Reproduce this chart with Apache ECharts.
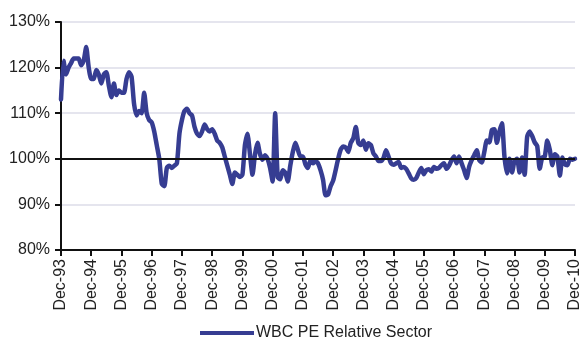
<!DOCTYPE html>
<html>
<head>
<meta charset="utf-8">
<script src="https://cdn.jsdelivr.net/npm/echarts@6/dist/echarts.min.js"></script>
<style>
html,body{margin:0;padding:0;background:#fff;}
#c{width:583px;height:338px;}
</style>
</head>
<body>
<div id="c"></div>
<script>
// Monthly values (%), Dec-93 .. Dec-10
const v1993 = [113];
const v1994 = [121.5,118.5,120,121,122,122,122,120.5,121.5,124.5,120,117.5];
const v1995 = [117.5,119.5,118.5,116.5,118.5,119,116,113.5,116.5,114,115,114.5];
const v1996 = [114.5,117.5,119,118,112,109.5,110.5,110,114.5,110,108.5,108];
const v1997 = [106,103,100,94.5,94,98,98.5,98,98.5,99,105.5,108.5];
const v1998 = [110.5,111,110,109.5,107,105.5,105,106,107.5,106.5,106,106.5];
const v1999 = [105.5,104,103.5,102.5,100.5,98.5,96.5,94.5,97,96.5,96,96.5];
const v2000 = [103,105.5,101,96.5,101,103.5,101,99.8,100.8,100,98,95];
const v2001 = [110,96,95.5,97.5,97,95,98.5,101.5,103.5,102,100.5,100.5];
const v2002 = [98.8,98,99.7,99,99.5,99,97.5,95.4,92,92.2,94,95.2];
const v2003 = [97.5,100,102,102.7,102.5,101.5,103.5,104.5,107,103.5,103,104];
const v2004 = [102,103.4,103,101.2,100.5,99.5,99.5,100.2,101.9,100.5,99,98.7];
const v2005 = [99,99.3,98,98.2,97.8,96.8,95.7,95.4,95.8,97,98,96.6];
const v2006 = [97.5,97.7,97.2,98.2,97.8,98,98.6,99,97.8,98.5,99.7,100.5];
const v2007 = [99,100.5,99,97.5,95.8,98.3,99.7,100.8,101.9,99.7,99.2,101.5];
const v2008 = [104,103.6,106.3,106.5,103.5,106,107.8,100.5,96.8,100,97,99.5];
const v2009 = [100,97,100.3,96.5,104.8,106,105,103.6,102.8,97.8,100.3,100.5];
const v2010 = [104,102,98.6,101,100.5,96.3,100.3,98.8,98.6,100,99.8,100];

const monthNames = ['Jan','Feb','Mar','Apr','May','Jun','Jul','Aug','Sep','Oct','Nov','Dec'];
const startYear = 1993, endYear = 2010;
const seriesName = 'WBC PE Relative Sector';
const yTicks = [80, 90, 100, 110, 120, 130];

const values = [].concat(v1993, v1994, v1995, v1996, v1997, v1998, v1999, v2000,
  v2001, v2002, v2003, v2004, v2005, v2006, v2007, v2008, v2009, v2010);

const categories = ['Dec-93'];
for (let y = startYear + 1; y <= endYear; y++) {
  for (let m = 0; m < 12; m++) {
    categories.push(monthNames[m] + '-' + String(y % 100).padStart(2, '0'));
  }
}

const font = 'Liberation Sans, Arial, sans-serif';
const chart = echarts.init(document.getElementById('c'), null, {renderer: 'canvas'});
chart.setOption({
  animation: false,
  backgroundColor: '#ffffff',
  grid: {left: 61, right: 5, top: 22, bottom: 88, containLabel: false},
  legend: {
    data: [{name: seriesName, icon: 'rect'}],
    left: 195,
    top: 320,
    itemWidth: 54,
    itemHeight: 4,
    itemGap: 2,
    itemStyle: {color: '#363d92', borderWidth: 0},
    textStyle: {fontFamily: font, fontSize: 16, color: '#222', padding: [0,0,0,-3]}
  },
  xAxis: {
    type: 'category',
    data: categories,
    boundaryGap: false,
    axisLine: {lineStyle: {color: '#111', width: 2}},
    axisTick: {interval: 11, length: 6, lineStyle: {color: '#111', width: 2}},
    axisLabel: {
      interval: 11, rotate: 90, margin: 9, padding: [0, 0, 3, 0],
      fontFamily: font, fontSize: 16, color: '#222'
    },
    splitLine: {show: false}
  },
  yAxis: {
    type: 'value',
    min: yTicks[0], max: yTicks[yTicks.length - 1], interval: 10,
    axisLine: {show: true, lineStyle: {color: '#111', width: 2}},
    axisTick: {show: true, length: 6, lineStyle: {color: '#111', width: 2}},
    axisLabel: {
      formatter: '{value}%', margin: 11,
      fontFamily: font, fontSize: 16, color: '#222'
    },
    splitLine: {show: true, lineStyle: {color: '#dcdde8', width: 1.5}}
  },
  series: [{
    name: seriesName,
    type: 'line',
    data: values,
    symbol: 'none',
    smooth: 0.2,
    lineStyle: {color: '#363d92', width: 4.5, join: 'round', cap: 'round'},
    itemStyle: {color: '#363d92'},
    z: 3,
    markLine: {
      silent: true,
      symbol: 'none',
      label: {show: false},
      lineStyle: {color: '#111', width: 2, type: 'solid'},
      data: [{yAxis: 100}],
      z: 4
    }
  }]
});
</script>
</body>
</html>
